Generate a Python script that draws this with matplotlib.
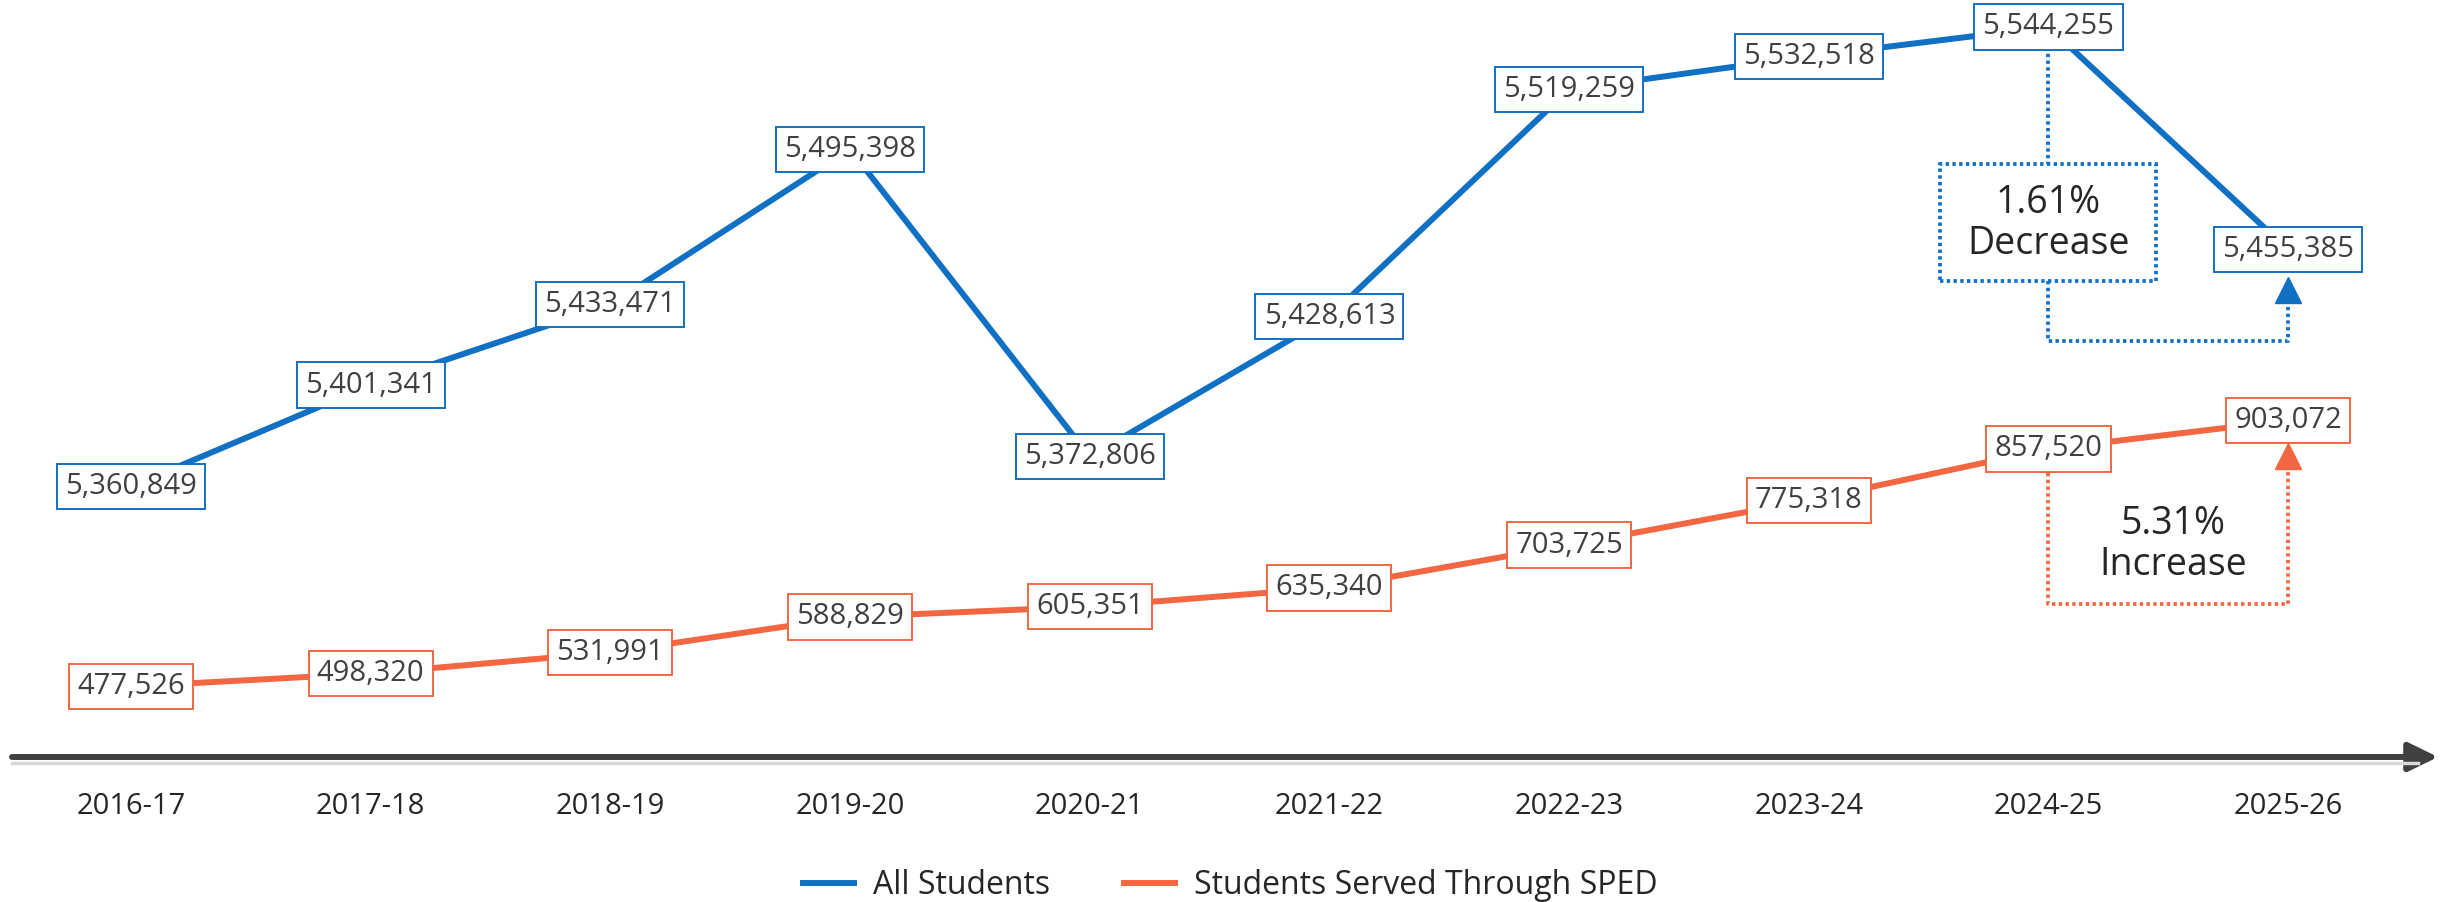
import matplotlib.pyplot as plt
from matplotlib.patches import Rectangle

plt.rcParams['font.family'] = ['Open Sans', 'DejaVu Sans']

years = ['2016-17', '2017-18', '2018-19', '2019-20', '2020-21',
         '2021-22', '2022-23', '2023-24', '2024-25', '2025-26']
all_students = [5360849, 5401341, 5433471, 5495398, 5372806,
                5428613, 5519259, 5532518, 5544255, 5455385]
sped_students = [477526, 498320, 531991, 588829, 605351,
                 635340, 703725, 775318, 857520, 903072]

blue = '#1070C4'
orange = '#F26641'
label_color = '#404040'
dark = '#262626'

fig = plt.figure(figsize=(24.41, 9.02), dpi=100)
ax = fig.add_axes([0, 145 / 902, 1, 757 / 902])
ax2 = ax.twinx()

x = list(range(len(years)))
ax.plot(x, all_students, color=blue, lw=4.3, solid_capstyle='butt', zorder=2)
ax2.plot(x, sped_students, color=orange, lw=4.3, solid_capstyle='butt', zorder=2)

ax.set_xlim(-0.5466, 9.638)
ax.set_ylim(5252892, 5555031)
ax2.set_ylim(364740, 1575788)

for a, vals, c in [(ax, all_students, blue), (ax2, sped_students, orange)]:
    for i, v in enumerate(vals):
        a.text(i, v, f'{v:,}', ha='center', va='center', fontsize=21,
               color=label_color, zorder=5,
               bbox=dict(boxstyle='square,pad=0.28', fc='white', ec=c, lw=1.4))

# hide frame, keep category labels
for a in (ax, ax2):
    for s in a.spines.values():
        s.set_visible(False)
ax.set_yticks([])
ax2.set_yticks([])
ax.set_xticks(x, years)
ax.tick_params(axis='x', length=0, pad=25, labelsize=21, labelcolor=dark)

# horizontal axis arrow with soft shadow
fig.add_artist(plt.Line2D([12 / 2441, 2418 / 2441], [139 / 902, 139 / 902],
                          color='#d9d9d9', lw=2.5))
ax.annotate('', xy=(2438, 145), xytext=(12, 145), xycoords='figure pixels',
            textcoords='figure pixels',
            arrowprops=dict(arrowstyle='-|>,head_length=0.45,head_width=0.22',
                            color='#404040', lw=4.3, mutation_scale=40,
                            shrinkA=0, shrinkB=0))

# 1.61% decrease callout (blue scale)
dot = dict(lw=2.7, linestyle=(0, (0.9, 0.9)))
ax.plot([8, 8], [5536273, 5489578], color=blue, dash_capstyle='butt', **dot)
ax.add_patch(Rectangle((7.548, 5442884), 0.901, 46694, fill=False,
                       edgecolor=blue, capstyle='butt', **dot))
ax.text(8, 5466000, '1.61%\nDecrease', ha='center', va='center',
        fontsize=27, color=dark, linespacing=1.1)
ax.plot([8, 8, 9, 9], [5442884, 5418938, 5418938, 5434500], color=blue,
        dash_capstyle='butt', **dot)
ax.plot([9], [5439291], marker='^', markersize=19, color=blue, mec=blue, zorder=6)

# 5.31% increase callout (orange scale)
ax2.plot([8, 8, 9, 9], [818883, 609509, 609509, 840000], color=orange,
         dash_capstyle='butt', **dot)
ax2.plot([9], [845480], marker='^', markersize=19, color=orange, mec=orange, zorder=6)
ax2.text(8.52, 705000, '5.31%\nIncrease', ha='center', va='center',
         fontsize=27, color=dark, linespacing=1.1)

handles = [plt.Line2D([], [], color=blue, lw=4.3),
           plt.Line2D([], [], color=orange, lw=4.3)]
fig.legend(handles, ['All Students', 'Students Served Through SPED'],
           loc='center', bbox_to_anchor=(0.504, 1 - 886 / 902), ncol=2,
           frameon=False, fontsize=23, handlelength=1.6, handletextpad=0.6,
           columnspacing=2.3, labelcolor=dark)

fig.savefig('out.png', dpi=100, facecolor='white')
